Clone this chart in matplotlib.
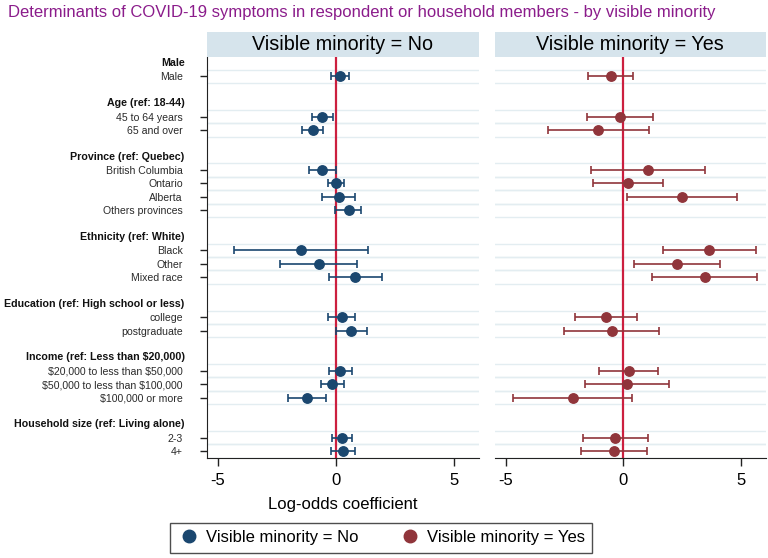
import matplotlib
matplotlib.use("Agg")
import matplotlib.pyplot as plt
from matplotlib.lines import Line2D
import numpy as np

plt.rcParams['font.family'] = ['Liberation Sans', 'DejaVu Sans']
plt.rcParams['text.parse_math'] = False

# ---- data ----
groups = ["Male", "Age (ref: 18-44)", "Province (ref: Quebec)", "Ethnicity (ref: White)",
          "Education (ref: High school or less)", "Income (ref: Less than $20,000)",
          "Household size (ref: Living alone)"]
group_items = [
    ["Male"],
    ["45 to 64 years", "65 and over"],
    ["British Columbia", "Ontario", "Alberta", "Others provinces"],
    ["Black", "Other", "Mixed race"],
    ["college", "postgraduate"],
    ["$20,000 to less than $50,000", "$50,000 to less than $100,000", "$100,000 or more"],
    ["2-3", "4+"],
]

# Visible minority = No
no_coef = [0.17, -0.57, -0.99, -0.58, 0.00, 0.13, 0.54, -1.50, -0.73, 0.83, 0.25, 0.65, 0.17, -0.16, -1.21, 0.25, 0.30]
no_lo   = [-0.20, -1.00, -1.45, -1.16, -0.35, -0.57, -0.04, -4.32, -2.37, -0.30, -0.32, -0.01, -0.31, -0.65, -2.02, -0.17, -0.21]
no_hi   = [0.55, -0.14, -0.54, 0.00, 0.35, 0.79, 1.06, 1.36, 0.90, 1.96, 0.83, 1.33, 0.68, 0.33, -0.40, 0.68, 0.79]

# Visible minority = Yes (no estimate for "Others provinces")
yes_coef = [-0.52, -0.14, -1.06, 1.06, 0.18, 2.48, np.nan, 3.63, 2.30, 3.46, -0.75, -0.48, 0.24, 0.14, -2.16, -0.34, -0.41]
yes_lo   = [-1.48, -1.55, -3.19, -1.36, -1.30, 0.16, np.nan, 1.67, 0.47, 1.22, -2.06, -2.54, -1.02, -1.63, -4.70, -1.72, -1.80]
yes_hi   = [0.43, 1.26, 1.09, 3.49, 1.67, 4.84, np.nan, 5.66, 4.13, 5.67, 0.58, 1.53, 1.46, 1.93, 0.37, 1.05, 1.01]

panel_titles = ["Visible minority = No", "Visible minority = Yes"]
xticks = [-5, 0, 5]

# ---- row layout ----
item_rows, item_labels, header_rows = [], [], []
r = 0
for g, items in zip(groups, group_items):
    header_rows.append(r)
    r += 1
    for it in items:
        item_rows.append(r)
        item_labels.append(it)
        r += 1
    r += 1  # blank row
item_rows = np.array(item_rows, dtype=float)

W, H = 768, 558
fig = plt.figure(figsize=(W / 100, H / 100), dpi=100)

blue = "#1A476F"
red = "#90353B"
zcol = "#CC1F3F"
strip = "#D6E4EC"
gridc = "#E3EDF1"

xlim = (-5.47, 6.05)
ylim = (29.52, -0.45)

def px(x0, y0, x1, y1):
    return [x0 / W, 1 - y1 / H, (x1 - x0) / W, (y1 - y0) / H]

axes = [fig.add_axes(px(207, 57, 478.5, 458)), fig.add_axes(px(494.7, 57, 765.5, 458))]
data = [(no_coef, no_lo, no_hi, blue), (yes_coef, yes_lo, yes_hi, red)]

for k, ax in enumerate(axes):
    coef, lo, hi, col = data[k]
    coef = np.array(coef, float); lo = np.array(lo, float); hi = np.array(hi, float)
    ax.set_xlim(*xlim)
    ax.set_ylim(*ylim)
    for yr in item_rows:
        for off in (-0.5, 0.5):
            ax.axhline(yr + off, color=gridc, lw=1.0, zorder=0)
    ax.axvline(0, color=zcol, lw=1.6, zorder=1)
    m = ~np.isnan(coef)
    ax.errorbar(coef[m], item_rows[m], xerr=[coef[m] - lo[m], hi[m] - coef[m]], fmt='o',
                color=col, ms=6.8, lw=1.2, capsize=3.0, capthick=1.2, zorder=3)
    ax.set_xticks(xticks)
    ax.set_xticklabels([str(t) for t in xticks], fontsize=12)
    ax.tick_params(axis='x', length=6, width=1, color='#222222', pad=5)
    for s in ("top", "right"):
        ax.spines[s].set_visible(False)
    ax.spines['bottom'].set_color('#222222')
    if k == 0:
        ax.set_yticks(item_rows)
        ax.set_yticklabels(item_labels, fontsize=7.6, color='#2a2a2a')
        ax.tick_params(axis='y', length=5, width=1, color='#222222', pad=12.5)
        ax.spines['left'].set_color('#222222')
        ax.set_xlabel("Log-odds coefficient", fontsize=12, labelpad=6)
        trans = matplotlib.transforms.blended_transform_factory(fig.transFigure, ax.transData)
        for g, hr in zip(groups, header_rows):
            ax.text(184.5 / W, hr, g, transform=trans, ha='right', va='center',
                    fontsize=7.65, fontweight='bold', color='#111111')
    else:
        ax.set_yticks([])
        ax.spines['left'].set_visible(False)
    # strip header
    bb = ax.get_position()
    fig.patches.append(matplotlib.patches.Rectangle((bb.x0, 1 - 57 / H), bb.width, 25 / H,
                                                    transform=fig.transFigure, facecolor=strip,
                                                    edgecolor='none', zorder=0))
    fig.text(bb.x0 + bb.width / 2, 1 - 45 / H, panel_titles[k], ha='center', va='center', fontsize=14.2)

fig.text(8 / W, 1 - 13 / H,
         "Determinants of COVID-19 symptoms in respondent or household members - by visible minority",
         ha='left', va='center', fontsize=11.95, color='#8B1C8B')

handles = [Line2D([], [], marker='o', ls='none', color=blue, ms=9),
           Line2D([], [], marker='o', ls='none', color=red, ms=9)]
leg = fig.legend(handles, panel_titles, loc='center', bbox_to_anchor=(381 / W, 1 - 537.5 / H),
                 ncol=2, fontsize=12, frameon=True, fancybox=False, edgecolor='#222222',
                 handletextpad=0.3, columnspacing=2.4, borderpad=0.45, handlelength=1.4)
leg.get_frame().set_linewidth(1.0)

fig.savefig("out.png", dpi=100, facecolor='white')
